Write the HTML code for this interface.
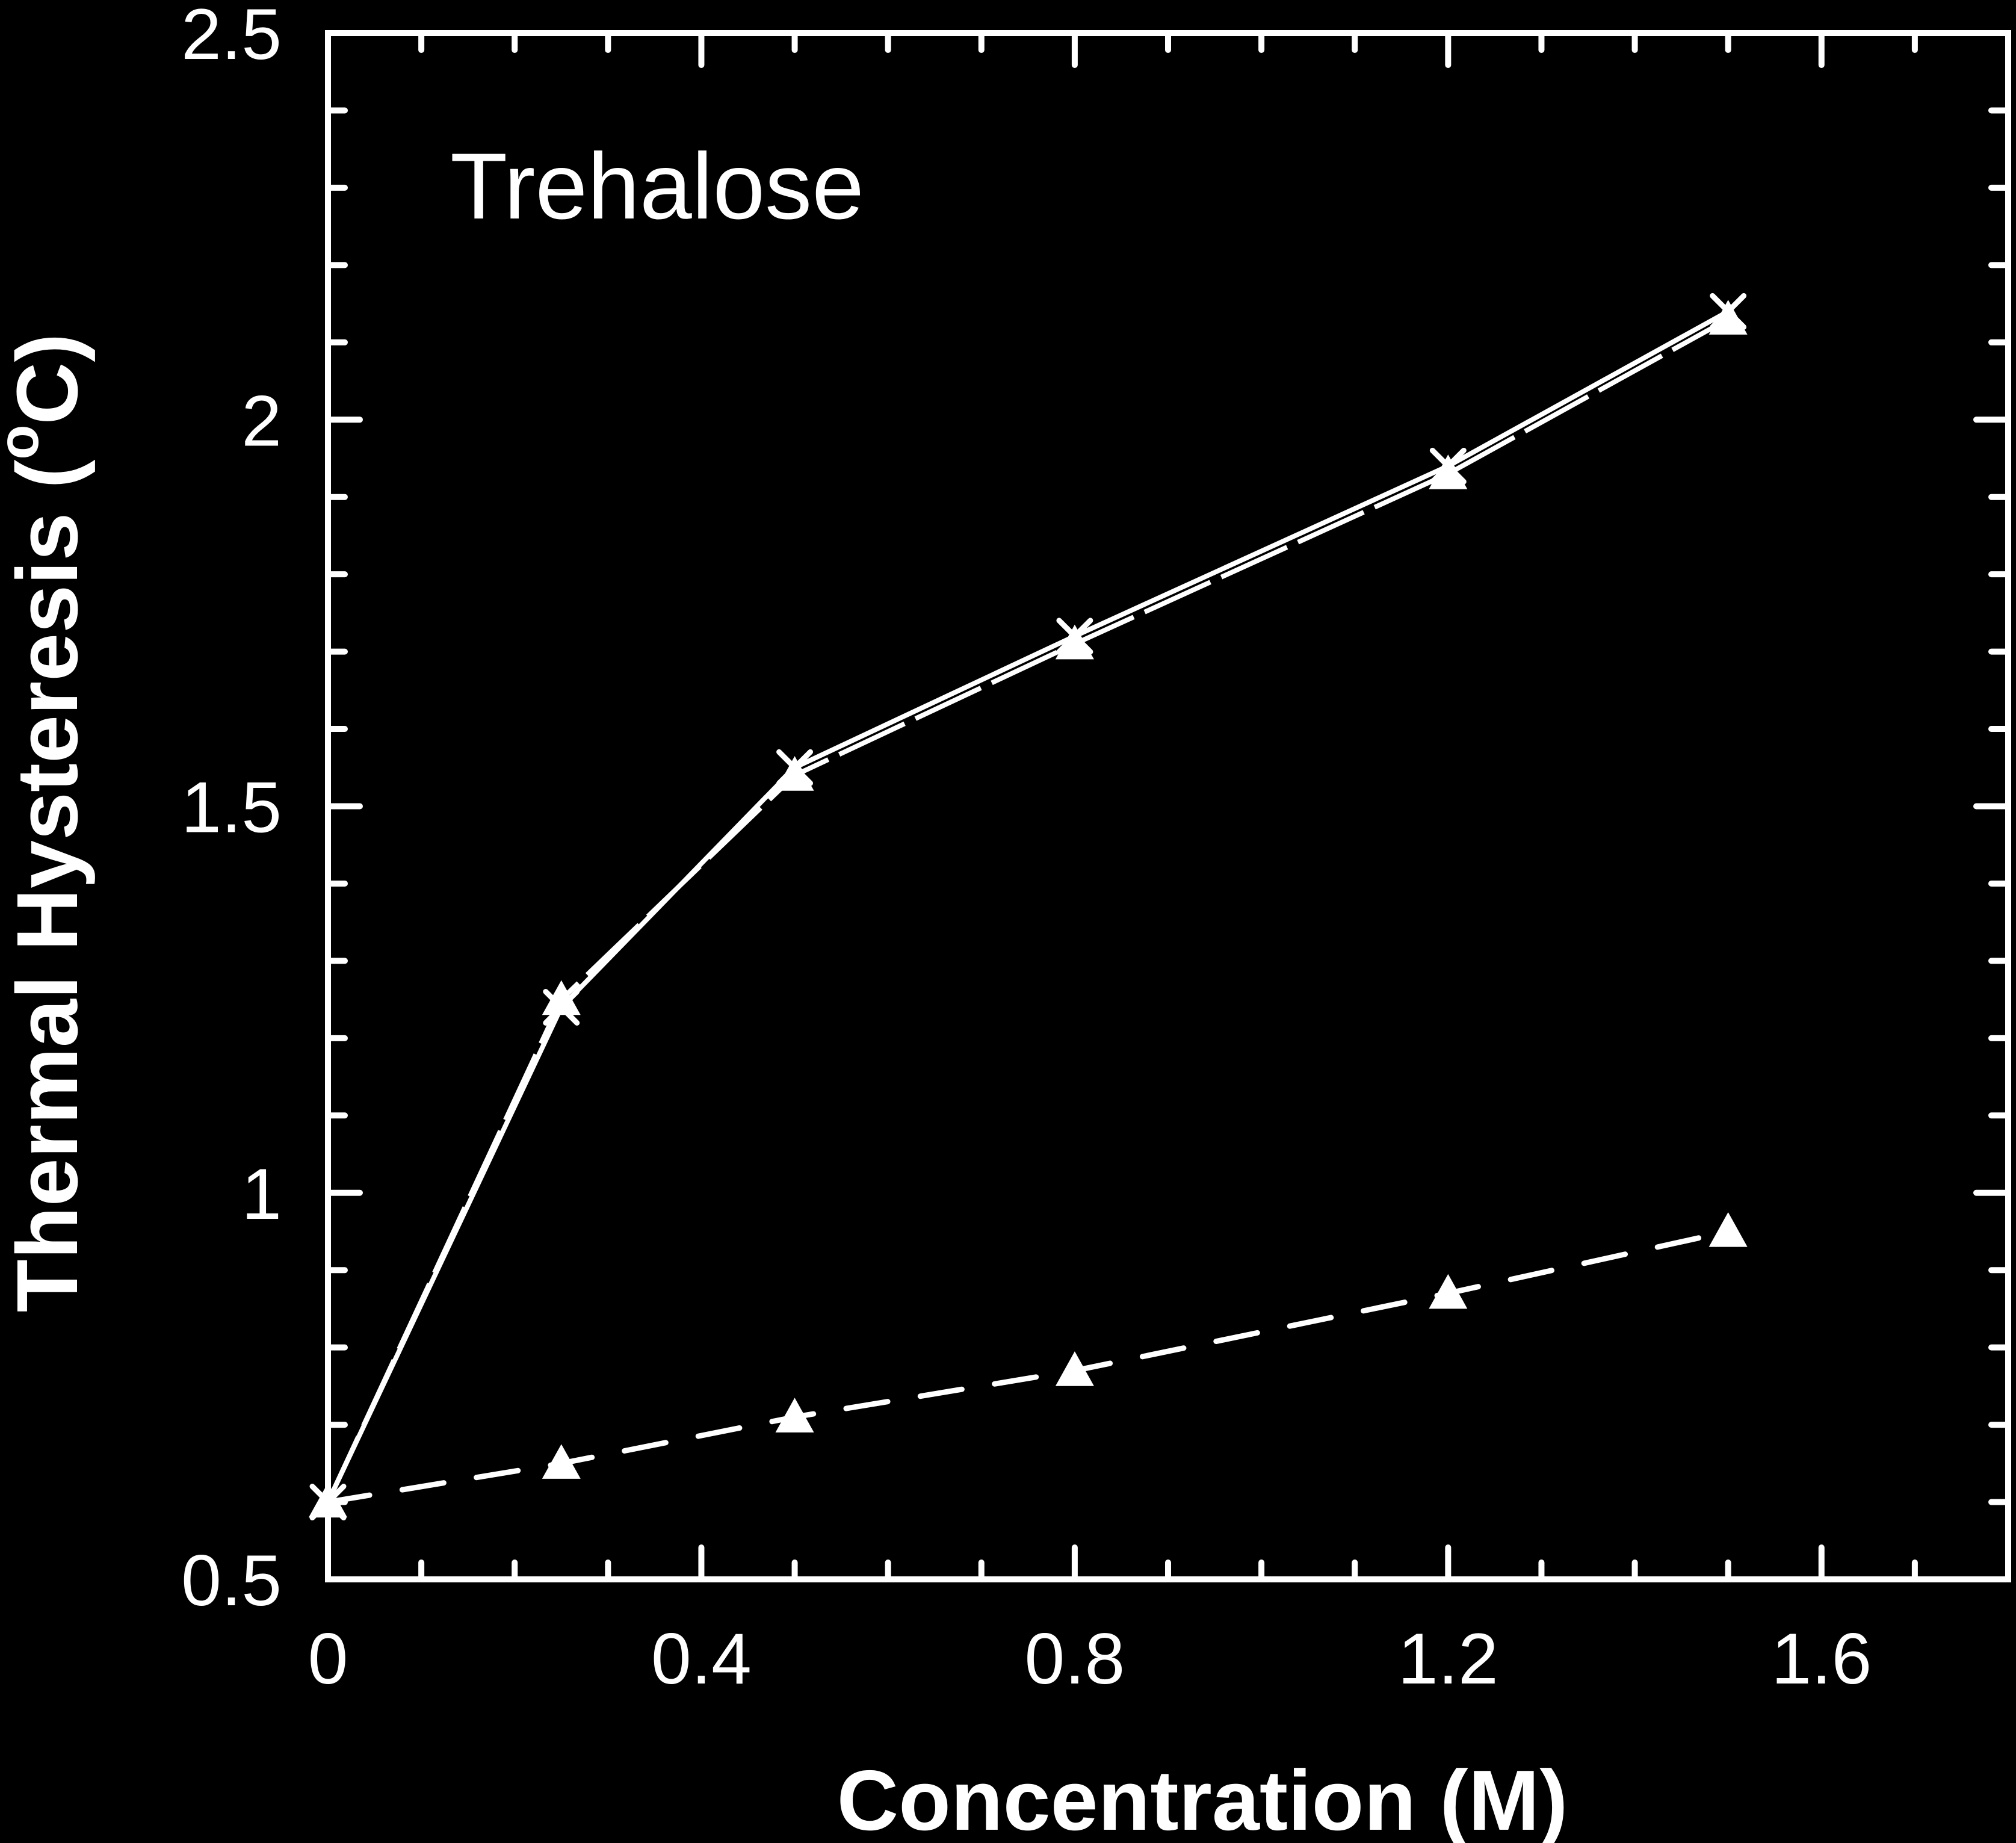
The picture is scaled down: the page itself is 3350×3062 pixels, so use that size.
<!DOCTYPE html>
<html><head><meta charset="utf-8"><style>
html,body{margin:0;padding:0;background:#000;}
svg{display:block;}
text{font-family:"Liberation Sans",Arial,sans-serif;fill:#fff;}
</style></head><body>
<svg id="chart" width="3350" height="3062" viewBox="0 0 3350 3062" xmlns="http://www.w3.org/2000/svg">
<rect width="3350" height="3062" fill="#000"/>
<g id="axes"></g>
<g id="series"></g>
<text x="748" y="363" font-size="156">Trehalose</text>
<text x="1998" y="3040" font-size="142" font-weight="bold" text-anchor="middle">Concentration (M)</text>
<text transform="translate(128,1367) rotate(-90)" font-size="144" font-weight="bold" text-anchor="middle">Thermal Hysteresis (<tspan font-size="95" dy="-65">o</tspan><tspan dy="65">C)</tspan></text>
</svg>
<script>
const xs = [0, 0.25, 0.5, 0.8, 1.2, 1.5];
const seriesSolid = [0.6, 1.24, 1.55, 1.72, 1.94, 2.14];
const seriesLongDash = [0.6, 1.25, 1.54, 1.71, 1.93, 2.13];
const seriesDashed = [0.6, 0.65, 0.71, 0.77, 0.87, 0.95];
const xTickLabels = ["0", "0.4", "0.8", "1.2", "1.6"];
const yTickLabels = ["0.5", "1", "1.5", "2", "2.5"];

const L=545,R=3337,T=55,B=2624;
const X0=0,X1=1.8,Y0=0.5,Y1=2.5;
const sx=v=>L+(v-X0)/(X1-X0)*(R-L);
const sy=v=>B-(v-Y0)/(Y1-Y0)*(B-T);
const NS="http://www.w3.org/2000/svg";
function mk(tag,attrs,parent){const e=document.createElementNS(NS,tag);for(const k in attrs)e.setAttribute(k,attrs[k]);parent.appendChild(e);return e;}
const axes=document.getElementById('axes');
const frame=mk('rect',{x:L,y:T,width:R-L,height:B-T,fill:'none',stroke:'#fff','stroke-width':10},axes);


for(let i=0;i<=18;i++){
  const v=i*0.1, x=sx(v), major=(i%4===0), len=major?53:28;
  const t1=mk('line',{x1:x,y1:B,x2:x,y2:B-len,stroke:'#fff','stroke-width':10,'stroke-linecap':'round'},axes);
  
  
  const t2=mk('line',{x1:x,y1:T,x2:x,y2:T+len,stroke:'#fff','stroke-width':10,'stroke-linecap':'round'},axes);
  
  
}
xTickLabels.forEach((s,i)=>{
  const t=mk('text',{x:sx(i*0.4),y:2797,'font-size':120,'text-anchor':'middle'},axes);
  t.textContent=s;
  
  
});
for(let i=0;i<=20;i++){
  const v=0.5+i*0.1, y=sy(v), major=(i%5===0), len=major?53:28;
  const t1=mk('line',{x1:L,y1:y,x2:L+len,y2:y,stroke:'#fff','stroke-width':10,'stroke-linecap':'round'},axes);
  
  
  const t2=mk('line',{x1:R,y1:y,x2:R-len,y2:y,stroke:'#fff','stroke-width':10,'stroke-linecap':'round'},axes);
  
  
}
yTickLabels.forEach((s,i)=>{
  const t=mk('text',{x:468,y:sy(0.5+i*0.5)+43,'font-size':120,'text-anchor':'end'},axes);
  t.textContent=s;
  
  
});
const sg=document.getElementById('series');
function pts(arr){return xs.map((x,i)=>sx(x)+','+sy(arr[i])).join(' ');}
function tri(x,y,name){
  const s=32;
  const p=mk('polygon',{points:`${x},${y-s} ${x-s},${y+s*0.8} ${x+s},${y+s*0.8}`,fill:'#fff'},sg);
  
  
}
function cross(x,y,name){
  const s=26;
  const p=mk('path',{d:`M${x-s},${y-s}L${x+s},${y+s}M${x+s},${y-s}L${x-s},${y+s}`,stroke:'#fff','stroke-width':9,'stroke-linecap':'round'},sg);
  
  
}
const l3=mk('polyline',{points:pts(seriesDashed),fill:'none',stroke:'#fff','stroke-width':9,'stroke-dasharray':'70 55','stroke-linecap':'round'},sg);


const l2=mk('polyline',{points:pts(seriesLongDash),fill:'none',stroke:'#fff','stroke-width':8,'stroke-dasharray':'120 20'},sg);


const l1=mk('polyline',{points:pts(seriesSolid),fill:'none',stroke:'#fff','stroke-width':8},sg);


xs.forEach((x,i)=>{
  tri(sx(x),sy(seriesDashed[i]),'marker-dashed-series');
  tri(sx(x),sy(seriesLongDash[i]),'marker-longdash-series');
  cross(sx(x),sy(seriesSolid[i]),'marker-solid-series');
});
</script>
</body></html>
